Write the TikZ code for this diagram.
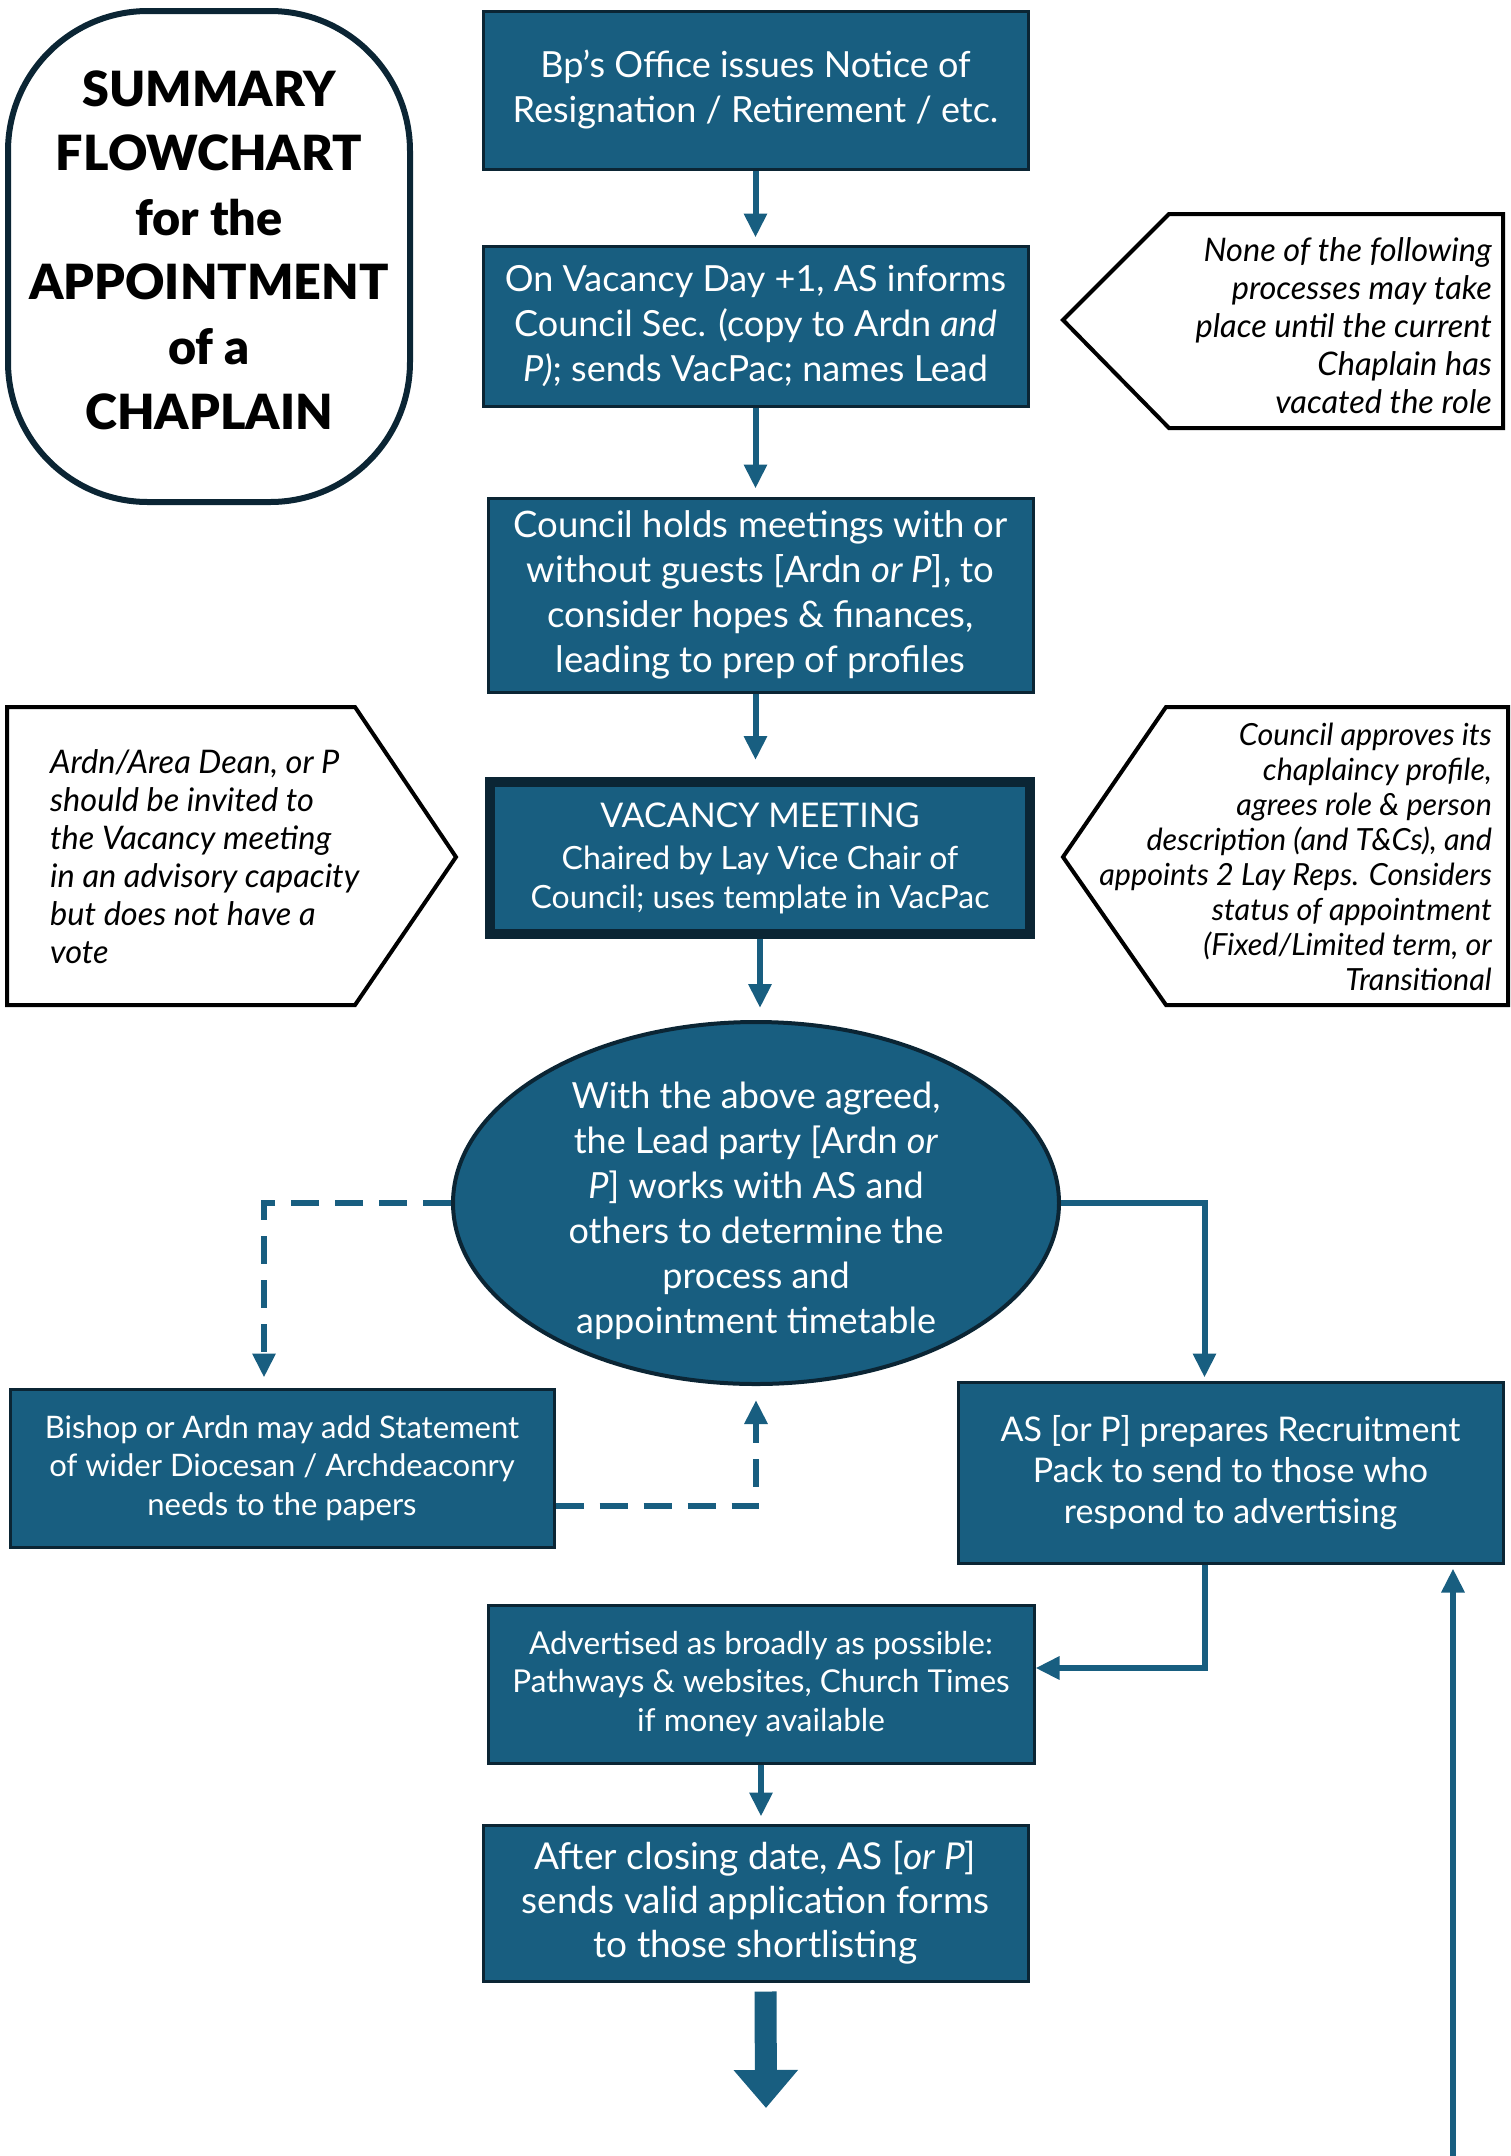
\documentclass[tikz,border=0pt]{standalone}
\usepackage{fontspec}
\setmainfont{Lato}
\newfontfamily\titlefont{Lato Black}
\usetikzlibrary{arrows.meta}
\usetikzlibrary{shapes.geometric}
\usetikzlibrary{positioning}
\definecolor{flowblue}{RGB}{24,94,128}
\definecolor{flowedge}{RGB}{11,37,52}
\tikzset{procbox/.style = {draw = flowedge, fill = flowblue, text = white, line width = 3pt, align = center, inner sep = 0, minimum width = 545pt, minimum height = 158pt}}
\tikzset{bigtext/.style = {font = \fontsize{36}{45}\selectfont}}
\tikzset{midtext/.style = {font = \fontsize{31.5}{38.5}\selectfont}}
\tikzset{notetext/.style = {font = \itshape\fontsize{32.5}{38}\selectfont, inner sep = 0}}
\tikzset{noteline/.style = {draw = black, line width = 4pt, line join = miter}}
\tikzset{flowarrow/.style = {draw = flowblue, line width = 6pt, -{Triangle[length = 24pt, width = 22pt]}}}
\tikzset{dashflow/.style = {flowarrow, dash pattern = on 28pt off 16pt}}

\begin{document}
\begin{tikzpicture}[x = 1pt, y = -1pt]
    \useasboundingbox (0, 0) rectangle (1511, 2156);

    \node [draw = flowedge, line width = 6pt, rounded corners = 140pt, minimum width = 402pt, minimum height = 491pt] (titlebox) at (209, 256.5) {};
    \node [align = center, font = \titlefont\fontsize{48.5}{64.6}\selectfont] (title) at (209, 250) {SUMMARY\\FLOWCHART\\for the\\APPOINTMENT\\of a\\CHAPLAIN};

    % main column
    \node [procbox, bigtext] (bpoffice) at (755.5, 90) {Bp’s Office issues Notice of\\Resignation / Retirement / etc.};
    \node [procbox, bigtext, minimum height = 160pt] (vacday) at (755.5, 326) {On Vacancy Day +1, AS informs\\Council Sec. (copy to Ardn \textit{and}\\\textit{P)}; sends VacPac; names Lead};
    \node [procbox, font = \fontsize{36.5}{45}\selectfont, minimum height = 194pt] (holds) at (760.5, 595) {Council holds meetings with or\\without guests [Ardn \textit{or P}], to\\consider hopes \& finances,\\leading to prep of profiles};
    \node [procbox, font = \fontsize{32}{38.5}\selectfont, line width = 10pt, minimum width = 540pt, minimum height = 152pt] (vacmeet) at (760, 858) {{\fontsize{34}{43}\selectfont VACANCY MEETING}\\[4pt]Chaired by Lay Vice Chair of\\Council; uses template in VacPac};
    \node [ellipse, draw = flowedge, fill = flowblue, line width = 4pt, inner sep = 0, minimum width = 606pt, minimum height = 362pt] (timetable) at (756, 1203) {};
    \node [align = center, text = white, bigtext] at (756, 1211) {With the above agreed,\\the Lead party [Ardn \textit{or}\\\textit{P}] works with AS and\\others to determine the\\process and\\appointment timetable};
    \node [procbox, font = \fontsize{31}{38.5}\selectfont, minimum width = 544pt] (bishop) at (282, 1468) {Bishop or Ardn may add Statement\\of wider Diocesan / Archdeaconry\\needs to the papers};
    \node [procbox, font = \fontsize{34}{41}\selectfont, minimum height = 181pt] (recruit) at (1230.5, 1472.5) {AS [or P] prepares Recruitment\\Pack to send to those who\\respond to advertising};
    \node [procbox, midtext, minimum width = 546pt] (advert) at (761, 1684) {Advertised as broadly as possible:\\Pathways \& websites, Church Times\\if money available};
    \node [procbox, font = \fontsize{37}{44}\selectfont, minimum height = 156pt] (closing) at (755.5, 1903) {After closing date, AS [\textit{or P}]\\sends valid application forms\\to those shortlisting};

    % side notes
    \draw [noteline] (1063, 320) -- (1169, 214) -- (1503, 214) -- (1503, 428) -- (1169, 428) -- cycle;
    \node [notetext, anchor = east, align = right] (waitnote) at (1492, 326) {None of the following\\processes may take\\place until the current\\Chaplain has\\vacated the role};
    \draw [noteline] (7, 707) -- (355, 707) -- (456, 857) -- (355, 1005) -- (7, 1005) -- cycle;
    \node [notetext, anchor = west, align = left] (adviser) at (50, 857) {Ardn/Area Dean, or P\\should be invited to\\the Vacancy meeting\\in an advisory capacity\\but does not have a\\vote};
    \draw [noteline] (1063, 857) -- (1166, 707) -- (1508, 707) -- (1508, 1005) -- (1166, 1005) -- cycle;
    \node [notetext, anchor = east, align = right, font = \itshape\fontsize{30.5}{35}\selectfont] (approve) at (1492, 857) {Council approves its\\chaplaincy profile,\\agrees role \& person\\description (and T\&Cs), and\\appoints 2 Lay Reps. Considers\\status of appointment\\(Fixed/Limited term, or\\Transitional};

    % connectors
    \draw [flowarrow, shorten > = 7pt] (bpoffice) -- (vacday);
    \draw [flowarrow, shorten > = 8pt] (vacday.south) -- (vacday.south |- holds.north);
    \draw [flowarrow, shorten > = 17pt] (vacday.south |- holds.south) -- (vacday.south |- vacmeet.north);
    \draw [flowarrow, shorten > = 12pt] (vacmeet) -- (vacmeet |- timetable.north);
    \draw [dashflow, shorten > = 10pt] (timetable.west) -| ([xshift = -18pt] bishop.north);
    \draw [dashflow, shorten > = 14pt] ([yshift = -38pt] bishop.east) -| (timetable.south);
    \draw [flowarrow, shorten > = 3pt] (timetable.east) -| ([xshift = -26pt] recruit.north);
    \draw [flowarrow] ([xshift = -26pt] recruit.south) |- ([yshift = 16pt] advert.east);
    \draw [flowarrow, shorten > = 7pt] (advert) -- (advert |- closing.north);
    \coordinate (loopback) at (1453, 2156);
    \draw [flowarrow, shorten > = 4pt] (loopback) -- (loopback |- recruit.south);
    \coordinate (nextstage) at (766, 2108);
    \draw [draw = flowblue, line width = 22pt, -{Triangle[length = 38pt, width = 62pt]}, shorten < = 9pt] ([xshift = 10pt] closing.south) -- (nextstage);
\end{tikzpicture}
\end{document}
